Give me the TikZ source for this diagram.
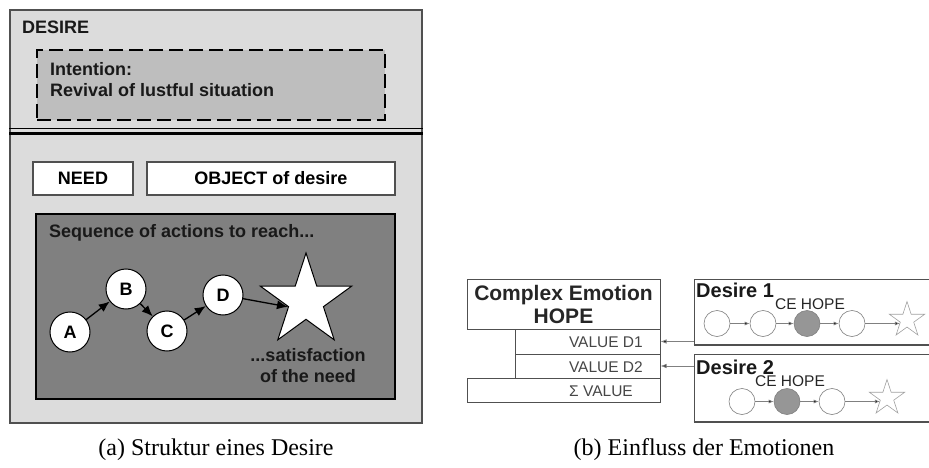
\documentclass[tikz,border=0pt]{standalone}
\usepackage{fontspec}
\setmainfont{Liberation Serif}
\setsansfont{Liberation Sans}
\usetikzlibrary{shapes.geometric,arrows.meta}
\definecolor{panelbg}{RGB}{220,220,220}
\definecolor{panelline}{RGB}{80,80,80}
\definecolor{intbg}{RGB}{190,190,190}
\definecolor{darkbg}{RGB}{128,128,128}
\definecolor{rline}{RGB}{80,80,80}
\definecolor{rtext}{RGB}{70,70,70}
\definecolor{ballfill}{RGB}{150,150,150}
\definecolor{starline}{RGB}{160,160,160}
\begin{document}
\begin{tikzpicture}[x=1pt,y=-1pt,font=\sffamily,
  lbox/.style={draw=panelline,fill=white,line width=1.2pt,inner sep=0pt,
    font=\sffamily\bfseries\fontsize{18}{20}\selectfont},
  ltxt/.style={font=\sffamily\bfseries\fontsize{18}{21}\selectfont,inner sep=0pt,text=black!90},
  ball/.style={circle,draw=black,fill=white,line width=1pt,minimum size=40pt,inner sep=0pt,
    font=\sffamily\bfseries\fontsize{18}{20}\selectfont},
  larr/.style={line width=1.3pt,-{Latex[length=11pt,width=9pt]}},
  rbox/.style={draw=rline,fill=white,line width=1pt,inner sep=0pt},
  rval/.style={font=\sffamily\fontsize{15.5}{18}\selectfont,text=rtext,inner sep=0pt,anchor=east},
  sball/.style={circle,draw=gray,fill=white,line width=0.6pt,minimum size=26pt,inner sep=0pt},
  gball/.style={sball,fill=ballfill},
  sstar/.style={star,star points=5,star point ratio=2.618,draw=starline,fill=white,line width=0.6pt,minimum size=37pt,inner sep=0pt},
  sarr/.style={draw=gray,line width=0.7pt,-{Latex[length=5pt,width=4pt,fill=black]}},
  rarr/.style={draw=gray,line width=0.8pt,-{Latex[length=6pt,width=4.5pt,fill=black]}},
  captxt/.style={font=\rmfamily\fontsize{24}{28}\selectfont,inner sep=0pt}]
\useasboundingbox (0,0) rectangle (929,468);

% ---------------- left panel ----------------
\node[draw=panelline,fill=panelbg,line width=1.5pt,minimum width=412pt,minimum height=413pt,inner sep=0pt] (outer) at (216,216.5) {};
\node[ltxt,anchor=west] (desire) at (22,27) {DESIRE};
\node[draw=black,fill=intbg,line width=2pt,dash pattern=on 14pt off 6pt,minimum width=348pt,minimum height=70pt,inner sep=0pt] (intent) at (211,85) {};
\node[ltxt,anchor=west,align=left] (inttxt) at (50,80) {Intention:\\Revival of lustful situation};
\draw[line width=0.8pt] (9,128) -- (423,128);
\draw[line width=3pt] (9,133.5) -- (423,133.5);
\node[lbox,minimum width=100pt,minimum height=33pt] (need) at (83,178.5) {NEED};
\node[lbox,minimum width=248pt,minimum height=33pt] (object) at (271,178.5) {OBJECT of desire};
\node[draw=black,fill=darkbg,line width=1.5pt,minimum width=359pt,minimum height=185pt,inner sep=0pt] (seq) at (215.5,306.5) {};
\node[ltxt,anchor=west] (seqtxt) at (49,233) {Sequence of actions to reach...};
\node[ball] (A) at (70,332) {A};
\node[ball] (B) at (126,289) {B};
\node[ball] (C) at (167,331) {C};
\node[ball] (D) at (223,295) {D};
\node[star,star points=5,star point ratio=2.618,draw=black,fill=white,line width=1pt,minimum size=96pt,inner sep=0pt] (goal) at (306,301) {};
\draw[larr] (A) -- (B);
\draw[larr] (B) -- (C);
\draw[larr] (C) -- (D);
\draw[larr] (D) -- (goal.inner point 2);
\node[ltxt,align=center] (sattxt) at (308,366) {...satisfaction\\of the need};

% ---------------- right panel ----------------
\node[rbox,minimum width=193pt,minimum height=50pt,align=center,
  font=\sffamily\bfseries\fontsize{21}{23}\selectfont,text=black!85] (ce) at (563.5,304) {Complex Emotion\\HOPE};
\node[rbox,minimum width=145pt,minimum height=25pt] (v1) at (587.5,341.5) {};
\node[rbox,minimum width=145pt,minimum height=24pt] (v2) at (587.5,366) {};
\node[rbox,minimum width=193pt,minimum height=24pt] (sv) at (563.5,390) {};
\node[rval] (v1t) at (643,342) {VALUE D1};
\node[rval] (v2t) at (643,367) {VALUE D2};
\node[rval] (svt) at (633,391) {Σ VALUE};

% desire 1
\draw[rline,line width=1pt] (929,279) -- (694,279) -- (694,345);
\draw[rline,line width=2.5pt] (693.5,345) -- (929,345);
\node[font=\sffamily\bfseries\fontsize{20}{22}\selectfont,anchor=west,inner sep=0pt,text=black!90] (d1t) at (696,290) {Desire 1};
\node[font=\sffamily\fontsize{15.5}{18}\selectfont,inner sep=0pt,text=black!85] (ce1) at (810,304) {CE HOPE};
\node[sball] (c11) at (717,323.5) {};
\node[sball] (c12) at (763,323.5) {};
\node[gball] (c13) at (807,323.5) {};
\node[sball] (c14) at (852,323.5) {};
\node[sstar] (s1) at (907,320) {};
\draw[sarr] (c11) -- (c12);
\draw[sarr] (c12) -- (c13);
\draw[sarr] (c13) -- (c14);
\draw[sarr] (c14) -- (s1.inner point 2 |- c14);

% desire 2
\draw[rline,line width=1pt] (929,354) -- (694,354) -- (694,422);
\draw[rline,line width=2.5pt] (693.5,422) -- (929,422);
\node[font=\sffamily\bfseries\fontsize{20}{22}\selectfont,anchor=west,inner sep=0pt,text=black!90] (d2t) at (696,367) {Desire 2};
\node[font=\sffamily\fontsize{15.5}{18}\selectfont,inner sep=0pt,text=black!85] (ce2) at (790,381) {CE HOPE};
\node[sball] (c21) at (742,401.5) {};
\node[gball] (c22) at (787,401.5) {};
\node[sball] (c23) at (832,401.5) {};
\node[sstar] (s2) at (887,398) {};
\draw[sarr] (c21) -- (c22);
\draw[sarr] (c22) -- (c23);
\draw[sarr] (c23) -- (s2.inner point 2 |- c23);

% links desire -> value
\coordinate (d1in) at (694,341.5);
\coordinate (d2in) at (694,366);
\draw[rarr] (d1in) -- (v1.east);
\draw[rarr] (d2in) -- (v2.east);

% captions
\node[captxt] (capa) at (216,450) {(a) Struktur eines Desire};
\node[captxt] (capb) at (704,450) {(b) Einfluss der Emotionen};
\end{tikzpicture}
\end{document}
